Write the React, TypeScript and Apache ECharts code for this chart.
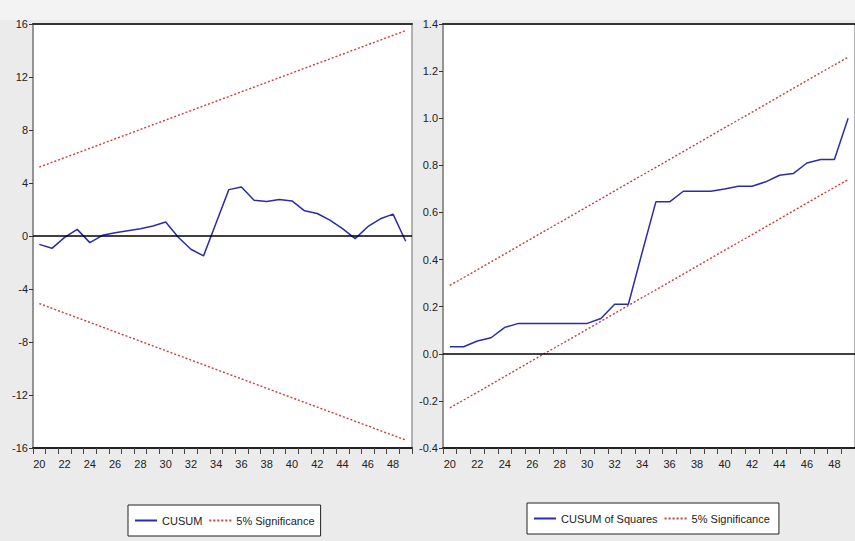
import React, { useEffect, useRef } from "react";
import * as echarts from "echarts";

const categories: string[] = [
  "20","21","22","23","24","25","26","27","28","29",
  "30","31","32","33","34","35","36","37","38","39",
  "40","41","42","43","44","45","46","47","48","49",
];

const cusum: number[] = [
  -0.63, -0.93, -0.1, 0.5, -0.5, 0.05, 0.25, 0.4, 0.55, 0.75,
  1.05, -0.1, -1.0, -1.5, 1.0, 3.5, 3.7, 2.7, 2.6, 2.75,
  2.65, 1.9, 1.7, 1.2, 0.55, -0.2, 0.7, 1.3, 1.65, -0.4,
];

// endpoints (first and last observation) of the straight 5% bands
const cusumUpper: number[] = [5.2, 15.5];
const cusumLower: number[] = [-5.1, -15.4];

const cusumSq: number[] = [
  0.03, 0.03, 0.054, 0.068, 0.112, 0.129, 0.129, 0.129, 0.129, 0.129,
  0.129, 0.15, 0.21, 0.21, 0.43, 0.645, 0.645, 0.69, 0.69, 0.69,
  0.7, 0.711, 0.711, 0.73, 0.758, 0.765, 0.81, 0.825, 0.825, 1.0,
];

const sqUpper: number[] = [0.29, 1.26];
const sqLower: number[] = [-0.23, 0.74];

const leftTicks = { min: -16, max: 16, interval: 4 };
const rightTicks = { min: -0.4, max: 1.4, interval: 0.2 };

const FONT = "'Liberation Sans Narrow', 'Liberation Sans', Arial, sans-serif";
const BLUE = "#2b2bb0";
const RED = "#d23a3a";

function endpoints(vals: number[]) {
  return [
    [categories[0], vals[0]],
    [categories[categories.length - 1], vals[1]],
  ];
}

export default function App() {
  const ref = useRef<HTMLDivElement>(null);

  useEffect(() => {
    if (!ref.current) return;
    const chart = echarts.init(ref.current, undefined, { renderer: "svg" });

    const grids = [
      { left: 33, top: 24, width: 379, height: 424 },
      { left: 443, top: 24, width: 421.5, height: 424 },
    ];

    const xBottom = (gi: number) => ({
      type: "category",
      gridIndex: gi,
      data: categories,
      boundaryGap: true,
      position: "bottom",
      axisLine: { show: true, onZero: false, lineStyle: { color: "#222", width: 2 } },
      axisTick: { show: true, interval: 0, length: 6, lineStyle: { color: "#444" } },
      axisLabel: {
        interval: 1,
        color: "#222",
        fontFamily: FONT,
        fontSize: 11,
        margin: 10,
      },
      splitLine: { show: false },
    });
    const xTop = (gi: number) => ({
      type: "category",
      gridIndex: gi,
      data: categories,
      position: "top",
      axisLine: { show: true, onZero: false, lineStyle: { color: "#333", width: 2 } },
      axisTick: { show: false },
      axisLabel: { show: false },
      splitLine: { show: false },
    });
    const yAx = (gi: number, t: any, fmt: (v: number) => string) => ({
      type: "value",
      gridIndex: gi,
      min: t.min,
      max: t.max,
      interval: t.interval,
      axisLine: { show: true, onZero: false, lineStyle: { color: "#8a8a8a", width: 1.5 } },
      axisTick: { show: true, length: 4, lineStyle: { color: "#333" } },
      axisLabel: {
        color: "#222",
        fontFamily: FONT,
        fontSize: 11,
        margin: 5,
        formatter: fmt,
      },
      splitLine: { show: false },
    });

    const zeroLine = {
      silent: true,
      symbol: "none",
      label: { show: false },
      lineStyle: { color: "#000", width: 1.5, type: "solid" },
      data: [{ yAxis: 0 }],
    };

    const sigStyle = { color: RED, width: 1.4, type: [2, 2] };

    const legendBase = {
      orient: "horizontal",
      backgroundColor: "#ffffff",
      borderColor: "#222",
      borderWidth: 1,
      borderRadius: 0,
      padding: [10, 6, 10, 6],
      itemGap: 6,
      itemWidth: 22,
      itemHeight: 10,
      itemStyle: { opacity: 0 },
      textStyle: { fontFamily: FONT, fontSize: 11, color: "#222" },
    };

    chart.setOption({
      animation: false,
      backgroundColor: "#ebebeb",
      graphic: [
        {
          type: "rect",
          shape: { x: 0, y: 0, width: 855, height: 20 },
          style: { fill: "#f3f3f3" },
          z: -10,
        },
      ],
      grid: grids.map((g) => ({
        ...g,
        show: true,
        backgroundColor: "#ffffff",
        borderColor: "#9a9a9a",
        borderWidth: 1.5,
      })),
      xAxis: [xBottom(0), xTop(0), xBottom(1), xTop(1)],
      yAxis: [
        yAx(0, leftTicks, (v: number) => String(Math.round(v))),
        yAx(1, rightTicks, (v: number) => v.toFixed(1)),
      ],
      legend: [
        { ...legendBase, data: ["CUSUM", "5% Significance"], left: 128, top: 505 },
        { ...legendBase, data: ["CUSUM of Squares", "5% Significance "], left: 527, top: 503 },
      ],
      series: [
        {
          name: "CUSUM",
          type: "line",
          xAxisIndex: 0,
          yAxisIndex: 0,
          data: cusum,
          symbol: "none",
          lineStyle: { color: BLUE, width: 1.5 },
          itemStyle: { color: BLUE },
          markLine: zeroLine,
          z: 3,
        },
        {
          name: "5% Significance",
          type: "line",
          xAxisIndex: 0,
          yAxisIndex: 0,
          data: endpoints(cusumUpper),
          symbol: "none",
          lineStyle: sigStyle,
          itemStyle: { color: RED },
        },
        {
          name: "5% Significance",
          type: "line",
          xAxisIndex: 0,
          yAxisIndex: 0,
          data: endpoints(cusumLower),
          symbol: "none",
          lineStyle: sigStyle,
          itemStyle: { color: RED },
        },
        {
          name: "CUSUM of Squares",
          type: "line",
          xAxisIndex: 2,
          yAxisIndex: 1,
          data: cusumSq,
          symbol: "none",
          lineStyle: { color: BLUE, width: 1.5 },
          itemStyle: { color: BLUE },
          markLine: zeroLine,
          z: 3,
        },
        {
          name: "5% Significance ",
          type: "line",
          xAxisIndex: 2,
          yAxisIndex: 1,
          data: endpoints(sqUpper),
          symbol: "none",
          lineStyle: sigStyle,
          itemStyle: { color: RED },
        },
        {
          name: "5% Significance ",
          type: "line",
          xAxisIndex: 2,
          yAxisIndex: 1,
          data: endpoints(sqLower),
          symbol: "none",
          lineStyle: sigStyle,
          itemStyle: { color: RED },
        },
      ],
    });

    return () => chart.dispose();
  }, []);

  return (
    <div
      ref={ref}
      style={{ position: "absolute", left: 0, top: 0, width: 855, height: 541 }}
    />
  );
}
